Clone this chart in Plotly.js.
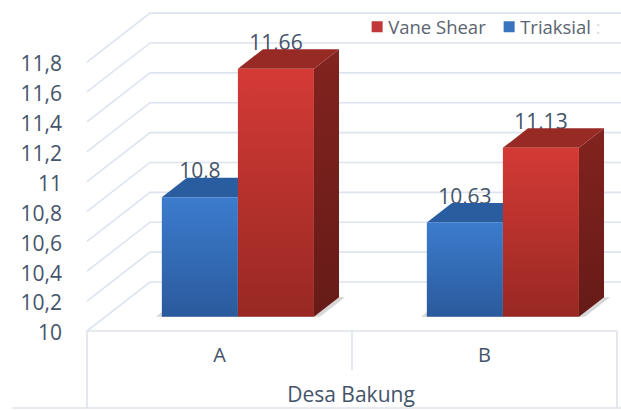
<!DOCTYPE html>
<html>
<head>
<meta charset="utf-8">
<script src="https://cdn.plot.ly/plotly-3.0.1.min.js"></script>
<style>html,body{margin:0;padding:0;background:#fff}</style>
</head>
<body>
<div id="chart" style="width:621px;height:410px"></div>
<script>
const categories = ['A', 'B'];
const triaksial = [10.8, 10.63];
const vaneShear = [11.66, 11.13];
const tickValues = [10, 10.2, 10.4, 10.6, 10.8, 11, 11.2, 11.4, 11.6, 11.8];
const tickLabels = ['10', '10,2', '10,4', '10,6', '10,8', '11', '11,2', '11,4', '11,6', '11,8'];
const seriesNames = ['Vane Shear', 'Triaksial <span style="color:#d8dce2">:</span>'];

// oblique projection of the 3-D chart, expressed in axis units
const depthX = 63 / 265, depthY = 49 / 149.4;
const zFront = 0.292, zBack = 0.69;
const barW = 0.287;
const px = (c, z) => c + z * depthX;
const py = (v, z) => v + z * depthY;
const base = 10;

const blue = {front: ['#3c7cce', '#2a5a9c'], top: '#2a5d9f', side: ['#21497f', '#1c3f6e']};
const red = {front: ['#d43a36', '#982823'], top: '#982a25', side: ['#82231f', '#661b17']};
const gridColor = '#dde4f0';
const textColor = '#44546a';

const traces = [];
function poly(xs, ys, fill) {
  const t = {type: 'scatter', mode: 'lines', x: xs.concat(xs[0]), y: ys.concat(ys[0]), fill: 'toself',
    line: {width: 0}, showlegend: false, hoverinfo: 'skip'};
  if (Array.isArray(fill)) {
    t.fillgradient = {type: 'vertical', colorscale: [[0, fill[1]], [1, fill[0]]]};
  } else t.fillcolor = fill;
  traces.push(t);
}

// back wall and side wall grid
tickValues.forEach(v => {
  traces.push({type: 'scatter', mode: 'lines',
    x: [px(-0.5, 0), px(-0.5, 1), 1.6], y: [v, py(v, 1), py(v, 1)],
    line: {color: gridColor, width: 1.6}, showlegend: false, hoverinfo: 'skip'});
});

// value labels sit behind the bars
const labelDrop = 6 / 149.4;
function labels(vals, off) {
  traces.push({type: 'scatter', mode: 'text',
    x: categories.map((_, i) => px(i, zFront) + off),
    y: vals.map(v => py(v, zBack) - labelDrop),
    text: vals.map(v => String(v).replace('.', ',')),
    textposition: 'top center', textfont: {color: textColor, size: 21},
    showlegend: false, hoverinfo: 'skip'});
}
labels(triaksial, -barW / 2);
labels(vaneShear, barW / 2);

// soft floor shadows
const sh = 6 / 265;
categories.forEach((_, i) => {
  const l = px(i, zFront) - barW - sh, r = px(i, zFront) + barW + sh, d = (zBack - zFront) * depthX;
  poly([l, r, r + d, l + d], [py(base, zFront), py(base, zFront), py(base, zBack), py(base, zBack)], 'rgba(110,110,110,0.28)');
});

function bar(i, v, x0, x1, col) {
  const d = (zBack - zFront) * depthX;
  const yb = py(base, zFront), yt = py(v, zFront), ytb = py(v, zBack), ybb = py(base, zBack);
  poly([x1, x1 + d, x1 + d, x1], [yb, ybb, ytb, yt], col.side);
  poly([x0, x1, x1 + d, x0 + d], [yt, yt, ytb, ytb], col.top);
  poly([x0, x1, x1, x0], [yb, yb, yt, yt], col.front);
}
categories.forEach((_, i) => {
  const c = px(i, zFront);
  bar(i, triaksial[i], c - barW, c, blue);
  bar(i, vaneShear[i], c, c + barW, red);
});

// legend keys
traces.push({type: 'scatter', mode: 'markers', x: [null], y: [null], name: seriesNames[0],
  marker: {symbol: 'square', size: 11, color: '#c0383a'}, hoverinfo: 'skip'});
traces.push({type: 'scatter', mode: 'markers', x: [null], y: [null], name: seriesNames[1],
  marker: {symbol: 'square', size: 11, color: '#3a74bd'}, hoverinfo: 'skip'});

const H = 410;
const frame = {type: 'line', layer: 'below', xref: 'x', yref: 'paper', line: {color: '#dfe3ec', width: 1.6}};
const yp = p => (H - 79 - p) / 326;
const shapes = [
  Object.assign({}, frame, {x0: -0.5, x1: 1.5, y0: yp(331), y1: yp(331)}),
  Object.assign({}, frame, {x0: -0.5, x1: -0.5, y0: yp(331), y1: yp(408)}),
  Object.assign({}, frame, {x0: 0.5, x1: 0.5, y0: yp(331), y1: yp(370)}),
  Object.assign({}, frame, {x0: 1.5, x1: 1.5, y0: yp(331), y1: yp(408)}),
  Object.assign({}, frame, {xref: 'paper', x0: -0.128, x1: 1, y0: yp(408), y1: yp(408)})
];

const layout = {
  width: 621, height: H,
  margin: {l: 81, r: 0, t: 5, b: 79},
  paper_bgcolor: '#ffffff', plot_bgcolor: 'rgba(0,0,0,0)',
  font: {family: '"Open Sans", sans-serif', color: textColor, size: 20},
  hovermode: false,
  xaxis: {range: [(81 - 219.5) / 265, (621 - 219.5) / 265], showgrid: false, zeroline: false, showline: false,
    tickmode: 'array', tickvals: [0, 1], ticktext: categories, ticks: '', ticklabelstandoff: 10,
    tickfont: {size: 20, color: textColor},
    title: {text: 'Desa Bakung', font: {size: 21, color: textColor}, standoff: 20}},
  yaxis: {range: [10, 10 + 326 / 149.4], showgrid: false, zeroline: false, showline: false,
    tickmode: 'array', tickvals: tickValues, ticktext: tickLabels, ticks: '', ticklabelstandoff: 18, ticklabelshift: 2,
    tickfont: {size: 21, color: textColor}},
  shapes: shapes,
  showlegend: true,
  legend: {orientation: 'h', x: 0.4947, xanchor: 'left', y: 0.99, yanchor: 'top', bgcolor: 'rgba(255,255,255,0)',
    entrywidth: 87, entrywidthmode: 'pixels',
    font: {size: 18.5, color: '#5a6470'}, itemclick: false, itemdoubleclick: false}
};
Plotly.newPlot('chart', traces, layout, {displayModeBar: false, staticPlot: true}).then(() => {
  // tighten the gap between each legend key and its text
  document.querySelectorAll('.legendsymbols').forEach(g => g.setAttribute('transform', 'translate(9,0)'));
});
</script>
</body>
</html>
